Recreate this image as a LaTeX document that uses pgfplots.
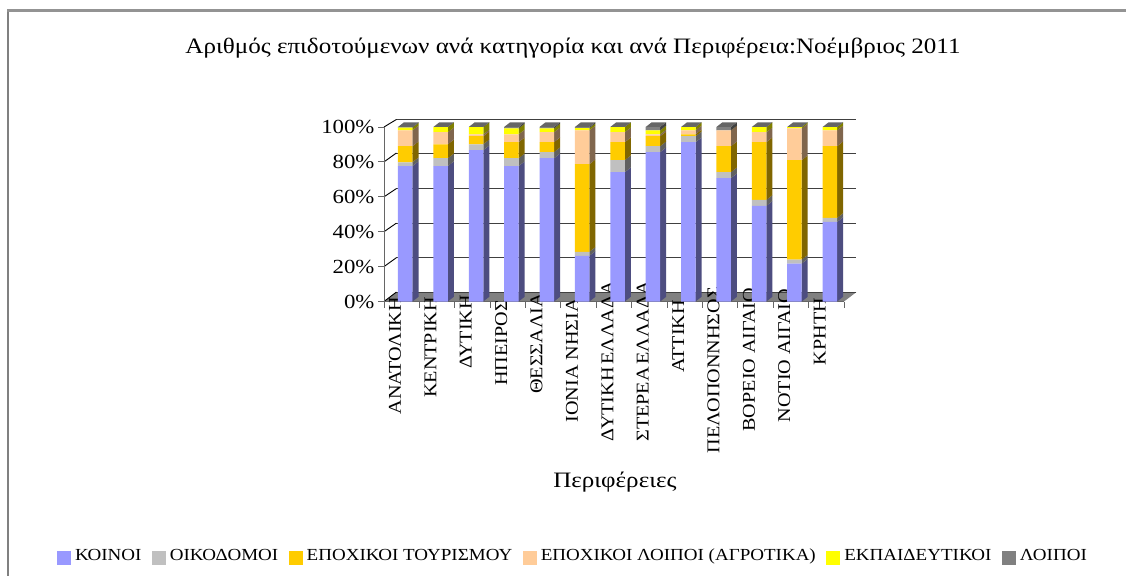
\documentclass[border=0pt]{standalone}
\usepackage{pgfplots}
\usepackage{pgfplotstable}
\usepackage{fontspec}
\pgfplotsset{compat=1.18}
\setmainfont[FakeStretch=1.14]{Liberation Serif}
\newfontfamily\capfont[FakeStretch=1.12]{Liberation Serif}
\newfontfamily\legfont[FakeStretch=1.125]{Liberation Serif}

\definecolor{cblue}{HTML}{9999FF}
\definecolor{cgrey}{HTML}{C0C0C0}
\definecolor{corange}{HTML}{FFCC00}
\definecolor{cpeach}{HTML}{FFCC99}
\definecolor{cyellow}{HTML}{FFFF00}
\definecolor{cdark}{HTML}{808080}
\definecolor{sblue}{HTML}{4D4D80}
\definecolor{sgrey}{HTML}{606060}
\definecolor{sorange}{HTML}{806600}
\definecolor{speach}{HTML}{80664D}
\definecolor{syellow}{HTML}{808000}
\definecolor{sdark}{HTML}{404040}
\definecolor{ctop}{HTML}{666666}

% shares per region, in percent of the bar
\pgfplotstableread{
x    koinoi oikod tourism agrot ekpaid loipoi
0.6  77.6   2.2   9.2     9.1   1.6    0.3
1.6  77.6   4.5   8.0     6.9   3.0    0.0
2.6  86.7   3.4   4.6     1.1   4.2    0.0
3.6  77.6   4.5   9.2     4.5   3.4    0.8
4.6  82.1   3.5   5.7     5.7   2.2    0.8
5.6  26.2   2.3   50.2    19.4  1.3    0.6
6.6  74.1   6.9   10.3    5.7   3.0    0.0
7.6  85.6   3.4   5.7     1.1   2.3    1.9
8.6  91.3   3.4   1.1     2.3   1.9    0.0
9.6  70.7   3.4   14.9    9.1   0.0    1.9
10.6 54.8   3.4   33.1    5.7   3.0    0.0
11.6 21.7   2.3   57.0    18.2  0.8    0.0
12.6 45.6   2.3   41.1    9.1   1.9    0.0
}\shares

% y of the back wall lines, front plane units
\pgfplotstableread{
back
5.4
25.1
44.9
64.7
85.1
104.3
}\backlines

\pgfplotsset{
  basis/.style={
    at={(384pt,274.5pt)}, anchor=south west,
    scale only axis, width=460pt, height=174.5pt,
    xmin=0, xmax=13, ymin=0, ymax=100,
    clip=false,
  },
}

% right side of one segment: x, lower, upper, colour
\newcommand{\sideface}[4]{%
  \edef\temp{\noexpand\addplot[fill=#4, draw=none, forget plot] coordinates {
    (#1+0.205,#2) (#1+0.375,#2+2.7) (#1+0.375,#3+2.7) (#1+0.205,#3)} -- cycle;}%
  \temp}

\begin{document}
\begin{tikzpicture}[x=1pt,y=1pt]
\path[use as bounding box] (0,0) rectangle (1126,576);
\fill[white] (0,0) rectangle (1126,576);
\fill[cdark] (6.5,0) rectangle (9,567);
\fill[cdark!85] (6.5,564) rectangle (1126,567);

% back wall, floor and faces
\begin{axis}[basis, axis lines=none]
\addplot[fill=cdark, draw=none] coordinates {(0,0) (0.35,5.4) (13.35,5.4) (13,0)} -- cycle;
\pgfplotsinvokeforeach{0,...,5}{
  \pgfplotstablegetelem{#1}{back}\of\backlines
  \edef\temp{\noexpand\addplot[black!75, line width=0.9pt] coordinates {(0.35,\pgfplotsretval) (13.35,\pgfplotsretval)};
  \noexpand\addplot[black, line width=0.9pt] coordinates {(0,#1*20) (0.35,\pgfplotsretval)};}
  \temp
}
\pgfplotsinvokeforeach{0,...,12}{
  \pgfplotstablegetelem{#1}{x}\of\shares \let\bx\pgfplotsretval
  \def\lo{0}
  \foreach \col/\shade in {koinoi/sblue,oikod/sgrey,tourism/sorange,agrot/speach,ekpaid/syellow,loipoi/sdark}{
    \pgfplotstablegetelem{#1}{\col}\of\shares
    \pgfmathsetmacro\hi{\lo+\pgfplotsretval}
    \sideface{\bx}{\lo}{\hi}{\shade}
    \global\let\lo\hi
  }
  \edef\temp{\noexpand\addplot[fill=ctop, draw=none] coordinates {
    (\bx-0.205,\lo) (\bx+0.205,\lo) (\bx+0.375,\lo+2.7) (\bx-0.035,\lo+2.7)} -- cycle;}
  \temp
}
\end{axis}

% the bars themselves
\begin{axis}[basis,
  ybar stacked, bar width=14.5pt,
  axis x line=bottom, axis y line=left,
  axis line style={-, draw=black!60, line width=1pt},
  tick style={draw=black!60, line width=1pt},
  xtick={0,...,13}, ytick={0,20,...,100},
  xtick align=outside, ytick align=outside,
  major tick length=6pt,
  xticklabels={},
  extra x ticks={0.34,1.34,2.34,3.34,4.34,5.34,6.34,7.34,8.34,9.34,10.34,11.34,12.34},
  extra x tick style={major tick length=0pt, tick style={draw=none},
    xticklabel style={rotate=90, anchor=east, font=\capfont\fontsize{18}{18}\selectfont, xshift=12pt, yshift=1pt}},
  extra x tick labels={ΑΝΑΤΟΛΙΚΗ\kern4pt,ΚΕΝΤΡΙΚΗ\kern4pt,ΔΥΤΙΚΗ\kern2pt,ΗΠΕΙΡΟΣ\kern7pt,ΘΕΣΣΑΛΙΑ,ΙΟΝΙΑ ΝΗΣΙΑ\kern5pt,ΔΥΤΙΚΗ\kern-2.5pt{} ΕΛΛΑΔΑ\kern-12pt,ΣΤΕΡΕΑ\kern-2.5pt{} ΕΛΛΑΔΑ\kern-12pt,ΑΤΤΙΚΗ\kern7pt,ΠΕΛΟΠΟΝΝΗΣΟΣ\kern-6pt,ΒΟΡΕΙΟ ΑΙΓΑΙΟ\kern-5pt,ΝΟΤΙΟ ΑΙΓΑΙΟ\kern-4pt,ΚΡΗΤΗ\kern5pt},
  yticklabel={\pgfmathprintnumber{\tick}\%},
  /pgf/number format/assume math mode=true,
  yticklabel style={font=\fontsize{20}{20}\selectfont},
  title={Αριθμός επιδοτούμενων ανά κατηγορία και ανά Περιφέρεια:Νοέμβριος 2011},
  title style={at={(axis description cs:0.411,1.418)}, anchor=center, yshift=0pt, font=\fontsize{22}{24}\selectfont},
  xlabel={Περιφέρειες},
  xlabel style={at={(axis description cs:0.502,-1.035)}, anchor=center, font=\fontsize{22}{24}\selectfont},
  legend columns=-1,
  legend style={at={(axis description cs:-0.711,-1.458)}, anchor=west, draw=none, fill=none,
    font=\legfont\fontsize{16.9}{17}\selectfont, inner sep=0pt,
    /tikz/every even column/.append style={column sep=8.5pt},
    /tikz/every odd column/.append style={column sep=2pt}},
  legend image code/.code={\fill[#1] (0pt,-10pt) rectangle (14pt,4pt);},
]
\addplot[fill=cblue, draw=none] table[x=x, y=koinoi] {\shares};
\addplot[fill=cgrey, draw=none] table[x=x, y=oikod] {\shares};
\addplot[fill=corange, draw=none] table[x=x, y=tourism] {\shares};
\addplot[fill=cpeach, draw=none] table[x=x, y=agrot] {\shares};
\addplot[fill=cyellow, draw=none] table[x=x, y=ekpaid] {\shares};
\addplot[fill=cdark, draw=none] table[x=x, y=loipoi] {\shares};
\legend{ΚΟΙΝΟΙ,ΟΙΚΟΔΟΜΟΙ,ΕΠΟΧΙΚΟΙ ΤΟΥΡΙΣΜΟΥ,ΕΠΟΧΙΚΟΙ ΛΟΙΠΟΙ (ΑΓΡΟΤΙΚΑ),ΕΚΠΑΙΔΕΥΤΙΚΟΙ,ΛΟΙΠΟΙ}
\end{axis}
\end{tikzpicture}
\end{document}
